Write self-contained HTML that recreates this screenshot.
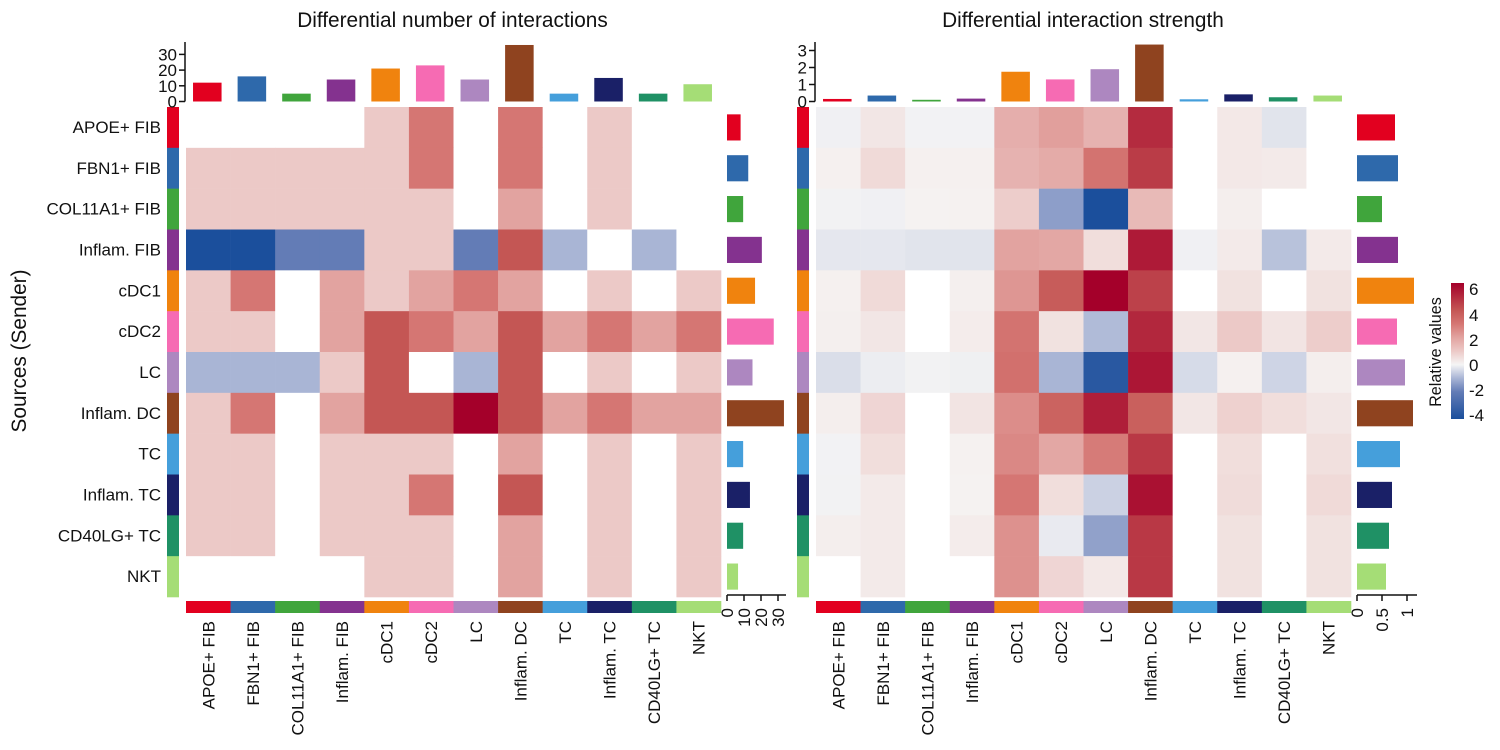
<!DOCTYPE html>
<html lang="en">
<head>
<meta charset="utf-8">
<title>Differential interaction heatmaps</title>
<style>
html,body{margin:0;padding:0;background:#fff;}
svg{display:block;font-family:"Liberation Sans",Arial,sans-serif;fill:#111;}
</style>
</head>
<body>
<svg id="chart" width="1500" height="750" viewBox="0 0 1500 750" xmlns="http://www.w3.org/2000/svg">
  <defs>
    <linearGradient id="legend-gradient" x1="0" y1="0" x2="0" y2="1">
      <stop offset="0" stop-color="#a4002a"/>
      <stop offset="0.2" stop-color="#c45654"/>
      <stop offset="0.3" stop-color="#d57673"/>
      <stop offset="0.4" stop-color="#e2a3a0"/>
      <stop offset="0.5" stop-color="#ecc9c7"/>
      <stop offset="0.6" stop-color="#f5f5f5"/>
      <stop offset="0.7" stop-color="#a9b5d5"/>
      <stop offset="0.8" stop-color="#637cb6"/>
      <stop offset="1" stop-color="#1b4f9c"/>
    </linearGradient>
  </defs>
  <text x="452.5" y="27" font-size="20.8" text-anchor="middle">Differential number of interactions</text>
  <text x="1083" y="27" font-size="20.8" text-anchor="middle">Differential interaction strength</text>
  <text transform="translate(26,351) rotate(-90)" font-size="20.8" text-anchor="middle">Sources (Sender)</text>
  <g>
    <rect x="1451" y="283" width="13" height="136" fill="url(#legend-gradient)"/>
    <text transform="translate(1441,352) rotate(-90)" font-size="16.2" text-anchor="middle">Relative values</text>
    <text x="1469" y="295" font-size="17">6</text>
    <text x="1469" y="321" font-size="17">4</text>
    <text x="1469" y="346" font-size="17">2</text>
    <text x="1469" y="371" font-size="17">0</text>
    <text x="1469" y="396" font-size="17">-2</text>
    <text x="1469" y="421" font-size="17">-4</text>
  </g>
  <g id="plots"></g>
</svg>
<script>
const categories = ["APOE+ FIB","FBN1+ FIB","COL11A1+ FIB","Inflam. FIB","cDC1","cDC2","LC","Inflam. DC","TC","Inflam. TC","CD40LG+ TC","NKT"];
const categoryColors = ["#e2001f","#2e69ab","#40a53c","#84328f","#f0830e","#f66bb3","#ad87c0","#8f431f","#459fdb","#1a2067","#1f9165","#a5dd76"];

const leftMatrix = [
  [0,0,0,0,1,3,0,3,0,1,0,0],
  [1,1,1,1,1,3,0,3,0,1,0,0],
  [1,1,1,1,1,1,0,2,0,1,0,0],
  [-4,-4,-2,-2,1,1,-2,4,-1,0,-1,0],
  [1,3,0,2,1,2,3,2,0,1,0,1],
  [1,1,0,2,4,3,2,4,2,3,2,3],
  [-1,-1,-1,1,4,0,-1,4,0,1,0,1],
  [1,3,0,2,4,4,6,4,2,3,2,2],
  [1,1,0,1,1,1,0,2,0,1,0,1],
  [1,1,0,1,1,3,0,4,0,1,0,1],
  [1,1,0,1,1,1,0,2,0,1,0,1],
  [0,0,0,0,1,1,0,2,0,1,0,1]
];
const rightMatrix = [
  [-0.05,0.3,-0.02,-0.02,1.7,2.1,1.6,5,0,0.25,-0.25,0],
  [0.05,0.6,0.05,0.05,1.6,1.8,3.1,4.6,0,0.25,0.2,0],
  [-0.03,-0.05,0.02,0.03,0.9,-1.4,-4,1.4,0,0.1,0,0],
  [-0.2,-0.2,-0.25,-0.25,2,1.9,0.5,5.4,-0.05,0.2,-0.8,0.2],
  [0.05,0.6,0,0.08,2.3,3.8,6,4.5,0,0.4,0,0.4],
  [0.08,0.3,0,0.15,3.1,0.4,-0.9,5.1,0.3,1,0.35,0.9],
  [-0.35,-0.1,-0.03,-0.06,3.2,-1,-3.6,5.5,-0.4,0.05,-0.5,0.1],
  [0.1,0.7,0,0.35,2.5,3.6,5.3,3.7,0.3,0.8,0.5,0.3],
  [-0.02,0.5,0,0.04,2.6,1.9,2.9,4.7,0,0.5,0,0.45],
  [-0.03,0.2,0,0.02,3,0.5,-0.55,5.6,0,0.55,0,0.6],
  [0.1,0.2,0,0.15,2.4,-0.15,-1.35,4.7,0,0.4,0,0.4],
  [0,0.2,0,0,2.4,0.7,0.25,4.7,0,0.4,0,0.4]
];
const leftTopValues = [12,16,5,14,21,23,14,36,5,15,5,11];
const rightTopValues = [0.15,0.35,0.1,0.17,1.75,1.3,1.9,3.35,0.13,0.42,0.25,0.35];
const leftSideValues = [8,12.5,9.5,20.5,16.5,27.5,15,33.5,9.5,13.5,9.5,6.5];
const rightSideValues = [0.76,0.82,0.5,0.82,1.14,0.8,0.96,1.12,0.86,0.7,0.64,0.58];
const leftTopTicks = [0,10,20,30];
const rightTopTicks = [0,1,2,3];
const leftSideTicks = [0,10,20,30];
const rightSideTicks = [0,0.5,1];

const NS = "http://www.w3.org/2000/svg";
const root = document.getElementById("plots");
const cellW = 535 / 12;
const cellH = 490 / 12;
const gridTop = 107;

function make(tag, attrs, parent) {
  const el = document.createElementNS(NS, tag);
  for (const k in attrs) el.setAttribute(k, attrs[k]);
  parent.appendChild(el);
  return el;
}
function hex(c) { return [1,3,5].map(i => parseInt(c.substr(i,2),16)); }
function colorScale(v) {
  if (v === 0) return "#ffffff";
  const stops = [[-4,"#1b4f9c"],[-2,"#637cb6"],[-1,"#a9b5d5"],[-0.01,"#f3f3f4"],[0.01,"#f5f2f1"],[1,"#ecc9c7"],[2,"#e2a3a0"],[3,"#d57673"],[4,"#c45654"],[6,"#a4002a"]];
  if (v <= stops[0][0]) return stops[0][1];
  for (let i = 1; i < stops.length; i++) {
    if (v <= stops[i][0]) {
      const t = (v - stops[i-1][0]) / (stops[i][0] - stops[i-1][0]);
      const a = hex(stops[i-1][1]), b = hex(stops[i][1]);
      return "rgb(" + a.map((x,j) => Math.round(x + (b[j]-x)*t)).join(",") + ")";
    }
  }
  return stops[stops.length-1][1];
}

function drawPanel(o) {
  const g = make("g", {}, root);
  
  
  const colX = i => o.gridLeft + i * cellW;
  const rowY = i => gridTop + i * cellH;
  const topY = v => o.topZero - v * o.topScale;
  const sideX = v => o.sideZero + v * o.sideScale;

  // heatmap cells
  o.matrix.forEach((row, r) => row.forEach((v, c) => {
    const cell = make("rect", {x: colX(c), y: rowY(r), width: cellW + 0.3, height: cellH + 0.3, fill: colorScale(v)}, g);
    
    
  }));

  categories.forEach((label, i) => {
    // sender annotation strip
    const rowStrip = make("rect", {x: o.gridLeft - 19, y: rowY(i), width: 12, height: cellH + 0.3, fill: categoryColors[i]}, g);
    
    
    // receiver annotation strip
    const colStrip = make("rect", {x: colX(i), y: 601, width: cellW + 0.3, height: 12, fill: categoryColors[i]}, g);
    
    
    // top bar
    const tv = o.topValues[i];
    const topBar = make("rect", {x: colX(i) + cellW * 0.18 - 1, y: topY(tv), width: cellW * 0.64, height: o.topZero - topY(tv), fill: categoryColors[i]}, g);
    
    
    // side bar
    const sv = o.sideValues[i];
    const sideBar = make("rect", {x: o.sideZero, y: rowY(i) + cellH * 0.18, width: sideX(sv) - o.sideZero, height: cellH * 0.64, fill: categoryColors[i]}, g);
    
    
    // bottom label
    const cx = colX(i) + cellW / 2 + 6;
    const xLab = make("text", {transform: "translate(" + cx + ",621) rotate(-90)", "font-size": 17, "text-anchor": "end"}, g);
    
    
    xLab.textContent = label;
    // row label
    if (o.rowLabels) {
      const yLab = make("text", {x: 161, y: rowY(i) + cellH / 2 + 5.5, "font-size": 17, "text-anchor": "end"}, g);
      
      
      yLab.textContent = label;
    }
  });

  // top axis
  const axisX = o.gridLeft - 1;
  const topAxis = make("line", {x1: axisX, x2: axisX, y1: 42, y2: o.topZero, stroke: "#111", "stroke-width": 1.5}, g);
  
  
  o.topTicks.forEach(t => {
    const tick = make("line", {x1: axisX - 6, x2: axisX, y1: topY(t), y2: topY(t), stroke: "#111", "stroke-width": 1.5}, g);
    
    
    const lab = make("text", {x: axisX - 8, y: topY(t) + 6, "font-size": 17, "text-anchor": "end"}, g);
    
    
    lab.textContent = t;
  });

  // side axis
  const axisY = 595;
  const sideAxis = make("line", {x1: o.sideZero, x2: o.sideEnd, y1: axisY, y2: axisY, stroke: "#111", "stroke-width": 1.5}, g);
  
  
  o.sideTicks.forEach(t => {
    const tick = make("line", {x1: sideX(t), x2: sideX(t), y1: axisY, y2: axisY + 6, stroke: "#111", "stroke-width": 1.5}, g);
    
    
    const lab = make("text", {transform: "translate(" + (sideX(t) + 6) + ",608) rotate(-90)", "font-size": 17, "text-anchor": "end"}, g);
    
    
    lab.textContent = t;
  });
}

drawPanel({name:"interaction-number", gridLeft:186, matrix:leftMatrix, topValues:leftTopValues, sideValues:leftSideValues,
  topTicks:leftTopTicks, sideTicks:leftSideTicks, topZero:101.5, topScale:1.57, sideZero:727, sideScale:1.7, sideEnd:786, rowLabels:true});
drawPanel({name:"interaction-strength", gridLeft:816, matrix:rightMatrix, topValues:rightTopValues, sideValues:rightSideValues,
  topTicks:rightTopTicks, sideTicks:rightSideTicks, topZero:101.5, topScale:17, sideZero:1357, sideScale:50, sideEnd:1417, rowLabels:false});
</script>
</body>
</html>
